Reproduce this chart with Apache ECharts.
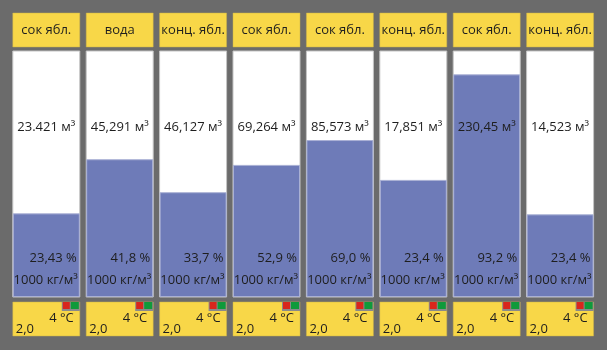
<!DOCTYPE html>
<html>
<head>
<meta charset="utf-8">
<script src="https://cdn.jsdelivr.net/npm/echarts@6/dist/echarts.min.js"></script>
<style>
  html, body { margin: 0; padding: 0; background: #6b6b6b; }
  #tanks { width: 607px; height: 350px; }
</style>
</head>
<body>
<div id="tanks"></div>
<script>
// содержимое ёмкостей
const labels = ['сок ябл.', 'вода', 'конц. ябл.', 'сок ябл.', 'сок ябл.', 'конц. ябл.', 'сок ябл.', 'конц. ябл.'];
const volumes = ['23.421', '45,291', '46,127', '69,264', '85,573', '17,851', '230,45', '14,523'];
const percents = ['23,43', '41,8', '33,7', '52,9', '69,0', '23,4', '93,2', '23,4'];
// уровень заливки (как нарисовано, в % высоты)
const fillLevels = [34.0, 56.0, 42.6, 53.7, 63.8, 47.6, 90.5, 33.6];
const densities = [1000, 1000, 1000, 1000, 1000, 1000, 1000, 1000];
const factors = ['2,0', '2,0', '2,0', '2,0', '2,0', '2,0', '2,0', '2,0'];
const temps = [4, 4, 4, 4, 4, 4, 4, 4];

const FONT = '13px "Open Sans", "Noto Sans", sans-serif';
const BAR_W = 67;

function txt(text, x, y, align, vAlign) {
  return {
    type: 'text',
    style: { text, x, y, align, verticalAlign: vAlign || 'middle', font: FONT, fill: '#1e1e1e' },
  };
}

function renderTank(params, api) {
  const i = api.value(0);
  const bottom = api.coord([i, 0]);
  const top = api.coord([i, 100]);
  const x = bottom[0] - BAR_W / 2;
  const r = x + BAR_W;
  const fy = bottom[1] + 5;
  return {
    type: 'group',
    children: [
      // шапка
      { type: 'rect', shape: { x: x, y: top[1] - 38, width: BAR_W, height: 34 },
        style: { fill: '#f8d748', stroke: '#c9b04a', lineWidth: 0.5 } },
      txt(labels[i], bottom[0], top[1] - 21, 'center'),
      // объём
      txt(volumes[i] + ' м³', bottom[0], top[1] + 76, 'center'),
      txt(percents[i] + ' %', r - 3, bottom[1] - 39, 'right'),
      txt(densities[i] + ' кг/м³', r - 2, bottom[1] - 17, 'right'),
      // подвал
      { type: 'rect', shape: { x: x, y: fy, width: BAR_W, height: 34 },
        style: { fill: '#f8d748', stroke: '#c9b04a', lineWidth: 0.5 } },
      { type: 'rect', shape: { x: r - 18, y: fy, width: 18, height: 9 },
        style: { fill: '#8a8a8a' } },
      { type: 'rect', shape: { x: r - 17, y: fy, width: 7, height: 7 },
        style: { fill: '#d9261c' } },
      { type: 'rect', shape: { x: r - 9, y: fy, width: 8, height: 7 },
        style: { fill: '#0f9a3a' } },
      txt(temps[i] + ' °C', r - 6, fy + 16, 'right'),
      txt(factors[i], x + 3, fy + 27, 'left'),
    ],
  };
}

const chart = echarts.init(document.getElementById('tanks'));
chart.setOption({
  backgroundColor: '#6b6b6b',
  animation: false,
  grid: { left: 9.6, right: 10.2, top: 51, bottom: 53 },
  xAxis: {
    type: 'category',
    data: labels.map((l, i) => i),
    show: false,
  },
  yAxis: { type: 'value', min: 0, max: 100, show: false },
  series: [
    {
      type: 'bar',
      data: fillLevels,
      barWidth: BAR_W,
      showBackground: true,
      backgroundStyle: { color: '#ffffff', borderColor: '#c4c4c4', borderWidth: 1 },
      itemStyle: { color: '#6e7bb8', borderColor: '#a9b0d4', borderWidth: 1 },
    },
    {
      type: 'custom',
      data: labels.map((l, i) => [i]),
      encode: { x: 0 },
      clip: false,
      z: 10,
      renderItem: renderTank,
    },
  ],
});
</script>
</body>
</html>
